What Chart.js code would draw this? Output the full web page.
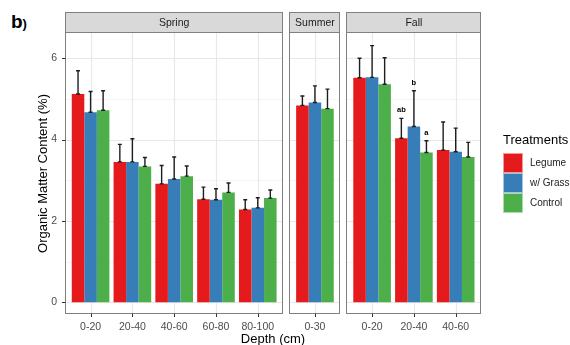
<!DOCTYPE html>
<html>
<head>
<meta charset="utf-8">
<script src="https://cdn.jsdelivr.net/npm/chart.js@4.4.1/dist/chart.umd.min.js"></script>
<style>
  body { margin: 0; width: 570px; height: 345px; position: relative; overflow: hidden; background: #fff;
         font-family: "Liberation Sans", Arial, sans-serif; }
  canvas { position: absolute; left: 0; top: 0; }
  #tag { position: absolute; left: 11px; top: 11px; font-weight: bold; font-size: 19px; color: #000; }
  #tag span { font-size: 13px; }
  #xtitle { position: absolute; left: 173px; width: 200px; top: 331px; line-height: 16px;
            text-align: center; font-size: 13px; color: #000; }
</style>
</head>
<body>
<div id="tag">b<span>)</span></div>
<canvas id="spring" width="570" height="345"></canvas>
<canvas id="summer" width="570" height="345"></canvas>
<canvas id="fall" width="570" height="345"></canvas>
<div id="xtitle">Depth (cm)</div>
<script>
// Datos
const treatments = ["Legume", "w/ Grass", "Control"];
const colours = ["#E41A1C", "#377EB8", "#4DAF4A"];

const yTicks = [0, 2, 4, 6];
const yMin = -0.29;
const yMax = 6.62;

const springDepths = ["0-20", "20-40", "40-60", "60-80", "80-100"];
const springLegume = [5.12, 3.45, 2.91, 2.53, 2.28];
const springGrass = [4.67, 3.45, 3.03, 2.52, 2.32];
const springControl = [4.72, 3.34, 3.10, 2.70, 2.56];
const springLegumeTop = [5.69, 3.88, 3.36, 2.83, 2.52];
const springGrassTop = [5.18, 4.02, 3.57, 2.79, 2.57];
const springControlTop = [5.20, 3.56, 3.35, 2.93, 2.76];

const summerDepths = ["0-30"];
const summerLegume = [4.84];
const summerGrass = [4.91];
const summerControl = [4.76];
const summerLegumeTop = [5.07];
const summerGrassTop = [5.32];
const summerControlTop = [5.24];

const fallDepths = ["0-20", "20-40", "40-60"];
const fallLegume = [5.52, 4.03, 3.74];
const fallGrass = [5.53, 4.32, 3.70];
const fallControl = [5.36, 3.68, 3.57];
const fallLegumeTop = [6.00, 4.52, 4.43];
const fallGrassTop = [6.31, 5.20, 4.28];
const fallControlTop = [6.01, 3.97, 3.93];
const fallLegumeLetters = ["", "ab", ""];
const fallGrassLetters = ["", "b", ""];
const fallControlLetters = ["", "a", ""];

// Disposicion de los paneles (pixeles)
const unit = 41.8;        // ancho de una categoria
const gap = 7;
const firstLeft = 65.5;
const panelTop = 33;
const stripH = 20;
const yAxisWidth = 38;
const font = "'Liberation Sans', Arial, sans-serif";

const crisp = (v) => Math.round(v) + 0.5;

const panelPlugin = {
  id: "panel",
  beforeDraw(chart) {
    const { ctx, chartArea: a, scales: { x, y } } = chart;
    const ext = (a.right - a.left) / chart.data.labels.length * 0.1;
    const pl = a.left - ext, pr = a.right + ext;
    ctx.save();
    ctx.fillStyle = "#fff";
    ctx.fillRect(pl, a.top, pr - pl, a.bottom - a.top);
    // lineas menores
    ctx.strokeStyle = "#f4f4f4";
    ctx.lineWidth = 1;
    for (let i = 0; i < yTicks.length - 1; i++) {
      const py = crisp(y.getPixelForValue((yTicks[i] + yTicks[i + 1]) / 2));
      ctx.beginPath(); ctx.moveTo(pl, py); ctx.lineTo(pr, py); ctx.stroke();
    }
    // lineas mayores
    ctx.strokeStyle = "#e8e8e8";
    ctx.lineWidth = 1.2;
    yTicks.forEach((v) => {
      const py = crisp(y.getPixelForValue(v));
      ctx.beginPath(); ctx.moveTo(pl, py); ctx.lineTo(pr, py); ctx.stroke();
    });
    chart.data.labels.forEach((l, i) => {
      const px = crisp(x.getPixelForValue(i));
      ctx.beginPath(); ctx.moveTo(px, a.top); ctx.lineTo(px, a.bottom); ctx.stroke();
    });
    ctx.restore();
  },
  afterDatasetsDraw(chart) {
    const { ctx, chartArea: a, scales: { x, y } } = chart;
    const ext = (a.right - a.left) / chart.data.labels.length * 0.1;
    const pl = a.left - ext, pr = a.right + ext;
    ctx.save();
    // barras de error
    ctx.strokeStyle = "#1e1e1e";
    ctx.lineWidth = 1.4;
    chart.data.datasets.forEach((ds, di) => {
      const meta = chart.getDatasetMeta(di);
      meta.data.forEach((bar, i) => {
        const yb = y.getPixelForValue(ds.data[i]);
        const yt = y.getPixelForValue(ds.tops[i]);
        ctx.beginPath();
        ctx.moveTo(bar.x, yb); ctx.lineTo(bar.x, yt);
        ctx.moveTo(bar.x - 2, yt); ctx.lineTo(bar.x + 2, yt);
        ctx.moveTo(bar.x - 2, yb); ctx.lineTo(bar.x + 2, yb);
        ctx.stroke();
        if (ds.letters && ds.letters[i]) {
          ctx.fillStyle = "#000";
          ctx.font = "bold 7.5px " + font;
          ctx.textAlign = "center";
          ctx.textBaseline = "middle";
          ctx.fillText(ds.letters[i], bar.x, y.getPixelForValue(ds.tops[i] + 0.2));
        }
      });
    });
    // borde del panel
    ctx.strokeStyle = "#808080";
    ctx.lineWidth = 1;
    const bl = crisp(pl) - 1, br = crisp(pr) - 1, bt = crisp(a.top) - 1, bb = crisp(a.bottom) - 1;
    ctx.strokeRect(bl, bt, br - bl, bb - bt);
    // franja superior
    ctx.fillStyle = "#d9d9d9";
    ctx.fillRect(bl, bt - stripH, br - bl, stripH);
    ctx.strokeRect(bl, bt - stripH, br - bl, stripH);
    ctx.fillStyle = "#1a1a1a";
    ctx.font = "10.5px " + font;
    ctx.textAlign = "center";
    ctx.textBaseline = "middle";
    ctx.fillText(chart.options.panelName, (pl + pr) / 2, a.top - stripH / 2);
    // marcas de los ejes
    ctx.strokeStyle = "#333";
    chart.data.labels.forEach((l, i) => {
      const px = crisp(x.getPixelForValue(i));
      ctx.beginPath(); ctx.moveTo(px, bb); ctx.lineTo(px, bb + 3.5); ctx.stroke();
    });
    if (chart.options.scales.y.display) {
      yTicks.forEach((v) => {
        const py = crisp(y.getPixelForValue(v));
        ctx.beginPath(); ctx.moveTo(bl - 3.5, py); ctx.lineTo(bl, py); ctx.stroke();
      });
    }
    ctx.restore();
  },
  afterDraw(chart) {
    if (!chart.options.showLegend) return;
    const { ctx } = chart;
    ctx.save();
    ctx.fillStyle = "#000";
    ctx.font = "13px " + font;
    ctx.textAlign = "left";
    ctx.textBaseline = "middle";
    ctx.fillText("Treatments", 503, 140);
    chart.data.datasets.forEach((ds, i) => {
      const ky = 153 + i * 20;
      ctx.fillStyle = ds.backgroundColor;
      ctx.fillRect(503, ky, 20, 20);
      ctx.strokeStyle = "rgba(255,255,255,0.55)";
      ctx.lineWidth = 1;
      ctx.strokeRect(503.5, ky + 0.5, 19, 19);
      ctx.fillStyle = "#222";
      ctx.font = "10px " + font;
      ctx.fillText(ds.label, 530, ky + 10.5);
    });
    ctx.restore();
  }
};

function makePanel(id, name, depths, values, tops, letters, index, showY, showLegend) {
  // posicion del panel segun los anteriores
  let left = firstLeft;
  const sizes = [springDepths.length, summerDepths.length, fallDepths.length];
  for (let i = 0; i < index; i++) left += (sizes[i] + 0.2) * unit + gap;
  const right = left + (depths.length + 0.2) * unit;
  const areaLeft = left + 0.1 * unit;
  const areaRight = right - 0.1 * unit;

  return new Chart(document.getElementById(id), {
    type: "bar",
    data: {
      labels: depths,
      datasets: treatments.map((t, i) => ({
        label: t,
        data: values[i],
        tops: tops[i],
        letters: letters ? letters[i] : null,
        backgroundColor: colours[i],
        borderWidth: 0,
        categoryPercentage: 0.9,
        barPercentage: 1.0
      }))
    },
    plugins: [panelPlugin],
    options: {
      responsive: false,
      animation: false,
      panelName: name,
      showLegend: showLegend,
      layout: {
        padding: {
          left: showY ? areaLeft - yAxisWidth : areaLeft,
          right: 570 - areaRight,
          top: panelTop,
          bottom: 0
        }
      },
      plugins: { legend: { display: false }, tooltip: { enabled: false } },
      scales: {
        x: {
          grid: { display: false, drawTicks: false },
          border: { display: false },
          ticks: { color: "#4d4d4d", font: { size: 10.5, family: font }, padding: 7, maxRotation: 0, autoSkip: false },
          afterFit: (s) => { s.height = 31; }
        },
        y: {
          display: showY,
          min: yMin,
          max: yMax,
          grid: { display: false, drawTicks: false },
          border: { display: false },
          afterBuildTicks: (s) => { s.ticks = yTicks.map((v) => ({ value: v })); },
          ticks: { color: "#4d4d4d", font: { size: 10.5, family: font }, padding: 12.5 },
          title: {
            display: true,
            text: "Organic Matter Content (%)",
            color: "#000",
            font: { size: 13, family: font },
            padding: { top: 4, bottom: 0 }
          },
          afterFit: (s) => { s.width = showY ? yAxisWidth : 0; }
        }
      }
    }
  });
}

makePanel("spring", "Spring", springDepths,
  [springLegume, springGrass, springControl],
  [springLegumeTop, springGrassTop, springControlTop], null, 0, true, false);
makePanel("summer", "Summer", summerDepths,
  [summerLegume, summerGrass, summerControl],
  [summerLegumeTop, summerGrassTop, summerControlTop], null, 1, false, false);
makePanel("fall", "Fall", fallDepths,
  [fallLegume, fallGrass, fallControl],
  [fallLegumeTop, fallGrassTop, fallControlTop],
  [fallLegumeLetters, fallGrassLetters, fallControlLetters], 2, false, true);
</script>
</body>
</html>
